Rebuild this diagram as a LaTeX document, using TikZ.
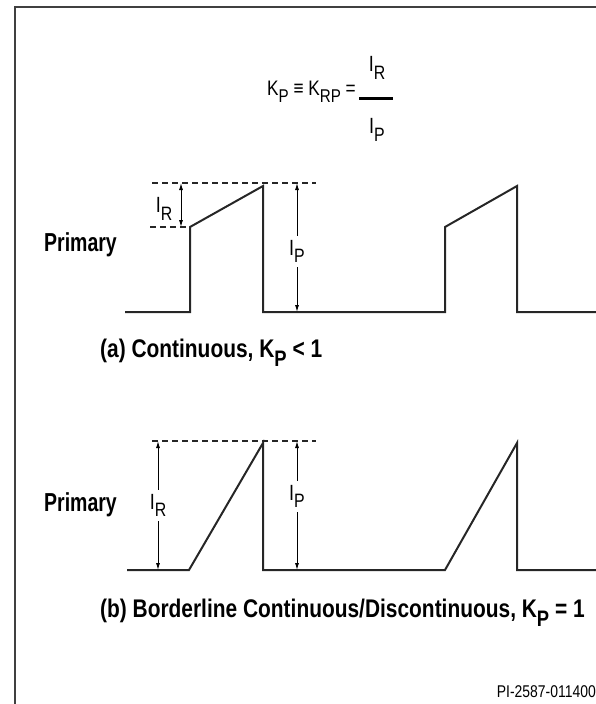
\documentclass[tikz,border=0pt]{standalone}
\usepackage{fontspec}
\setmainfont[FakeStretch=0.82]{Liberation Sans}
\newfontfamily\sidefont[FakeStretch=0.75]{Liberation Sans}
\usetikzlibrary{arrows.meta}
\newcommand{\lw}[1]{\raisebox{-0.65ex}{\scalebox{0.88}{#1}}}

\begin{document}
\begin{tikzpicture}[x=1pt, y=-1pt,
  wave/.style={line width=2pt, black!85, line join=miter},
  dashline/.style={line width=1.6pt, dash pattern=on 6pt off 4pt, black!85},
  dimarrow/.style={line width=0.9pt, {Latex[length=7pt,width=4pt]}-{Latex[length=7pt,width=4pt]}},
  lbl/.style={font=\fontsize{22}{24}\selectfont, inner sep=1pt},
  capt/.style={font=\bfseries\fontsize{25.5}{28}\selectfont, anchor=west, inner sep=0pt},
  side/.style={font=\sidefont\bfseries\fontsize{26}{28}\selectfont, anchor=east, inner sep=0pt}]
  \useasboundingbox (0,0) rectangle (596,704);
  % frame
  \draw[line width=2pt, black!75] (15,710) -- (15,6.5) -- (602,6.5);
  % definition
  \node[anchor=east, font=\fontsize{21}{24}\selectfont, inner sep=0pt] (kdef) at (356,92) {K\lw{P} ≡ K\lw{RP} =};
  \node[lbl] (numr) at (377,68) {I\lw{R}};
  \draw[line width=3pt] (359,98) -- (393,98);
  \node[lbl] (denp) at (377,130) {I\lw{P}};
  % (a) continuous
  \node[side] (pria) at (117,245) {Primary};
  \draw[wave] (125,312) -- (190,312) -- (190,227) -- (263,186) -- (263,312)
    -- (445,312) -- (445,227) -- (517,186) -- (517,312) -- (596,312);
  \draw[dashline] (152,183) -- (316,183);
  \draw[dashline] (150,227) -- (190,227);
  \draw[dimarrow] (181,183) -- (181,227);
  \node[lbl] (ira) at (164,209) {I\lw{R}};
  \draw[dimarrow] (297,183) -- node[lbl, fill=white, inner ysep=4pt, pos=0.53] (ipa) {I\lw{P}} (297,312);
  \node[capt] (capa) at (100,353) {(a) Continuous, K\lw{P} < 1};
  % (b) borderline
  \node[side] (prib) at (117,505) {Primary};
  \draw[wave] (127,570) -- (189,570) -- (263,443) -- (263,570)
    -- (445,570) -- (517,443) -- (517,570) -- (596,570);
  \draw[dashline] (152,441) -- (316,441);
  \draw[dimarrow] (158,441) -- node[lbl, fill=white, inner ysep=4pt, pos=0.5] (irb) {I\lw{R}} (158,570);
  \draw[dimarrow] (297,441) -- node[lbl, fill=white, inner ysep=4pt, pos=0.43] (ipb) {I\lw{P}} (297,570);
  \node[capt] (capb) at (100,613) {(b) Borderline Continuous/Discontinuous, K\lw{P} = 1};
  % drawing number
  \node[anchor=east, font=\fontsize{17}{19}\selectfont, inner sep=0pt] (pino) at (596,692) {PI-2587-011400};
\end{tikzpicture}
\end{document}
